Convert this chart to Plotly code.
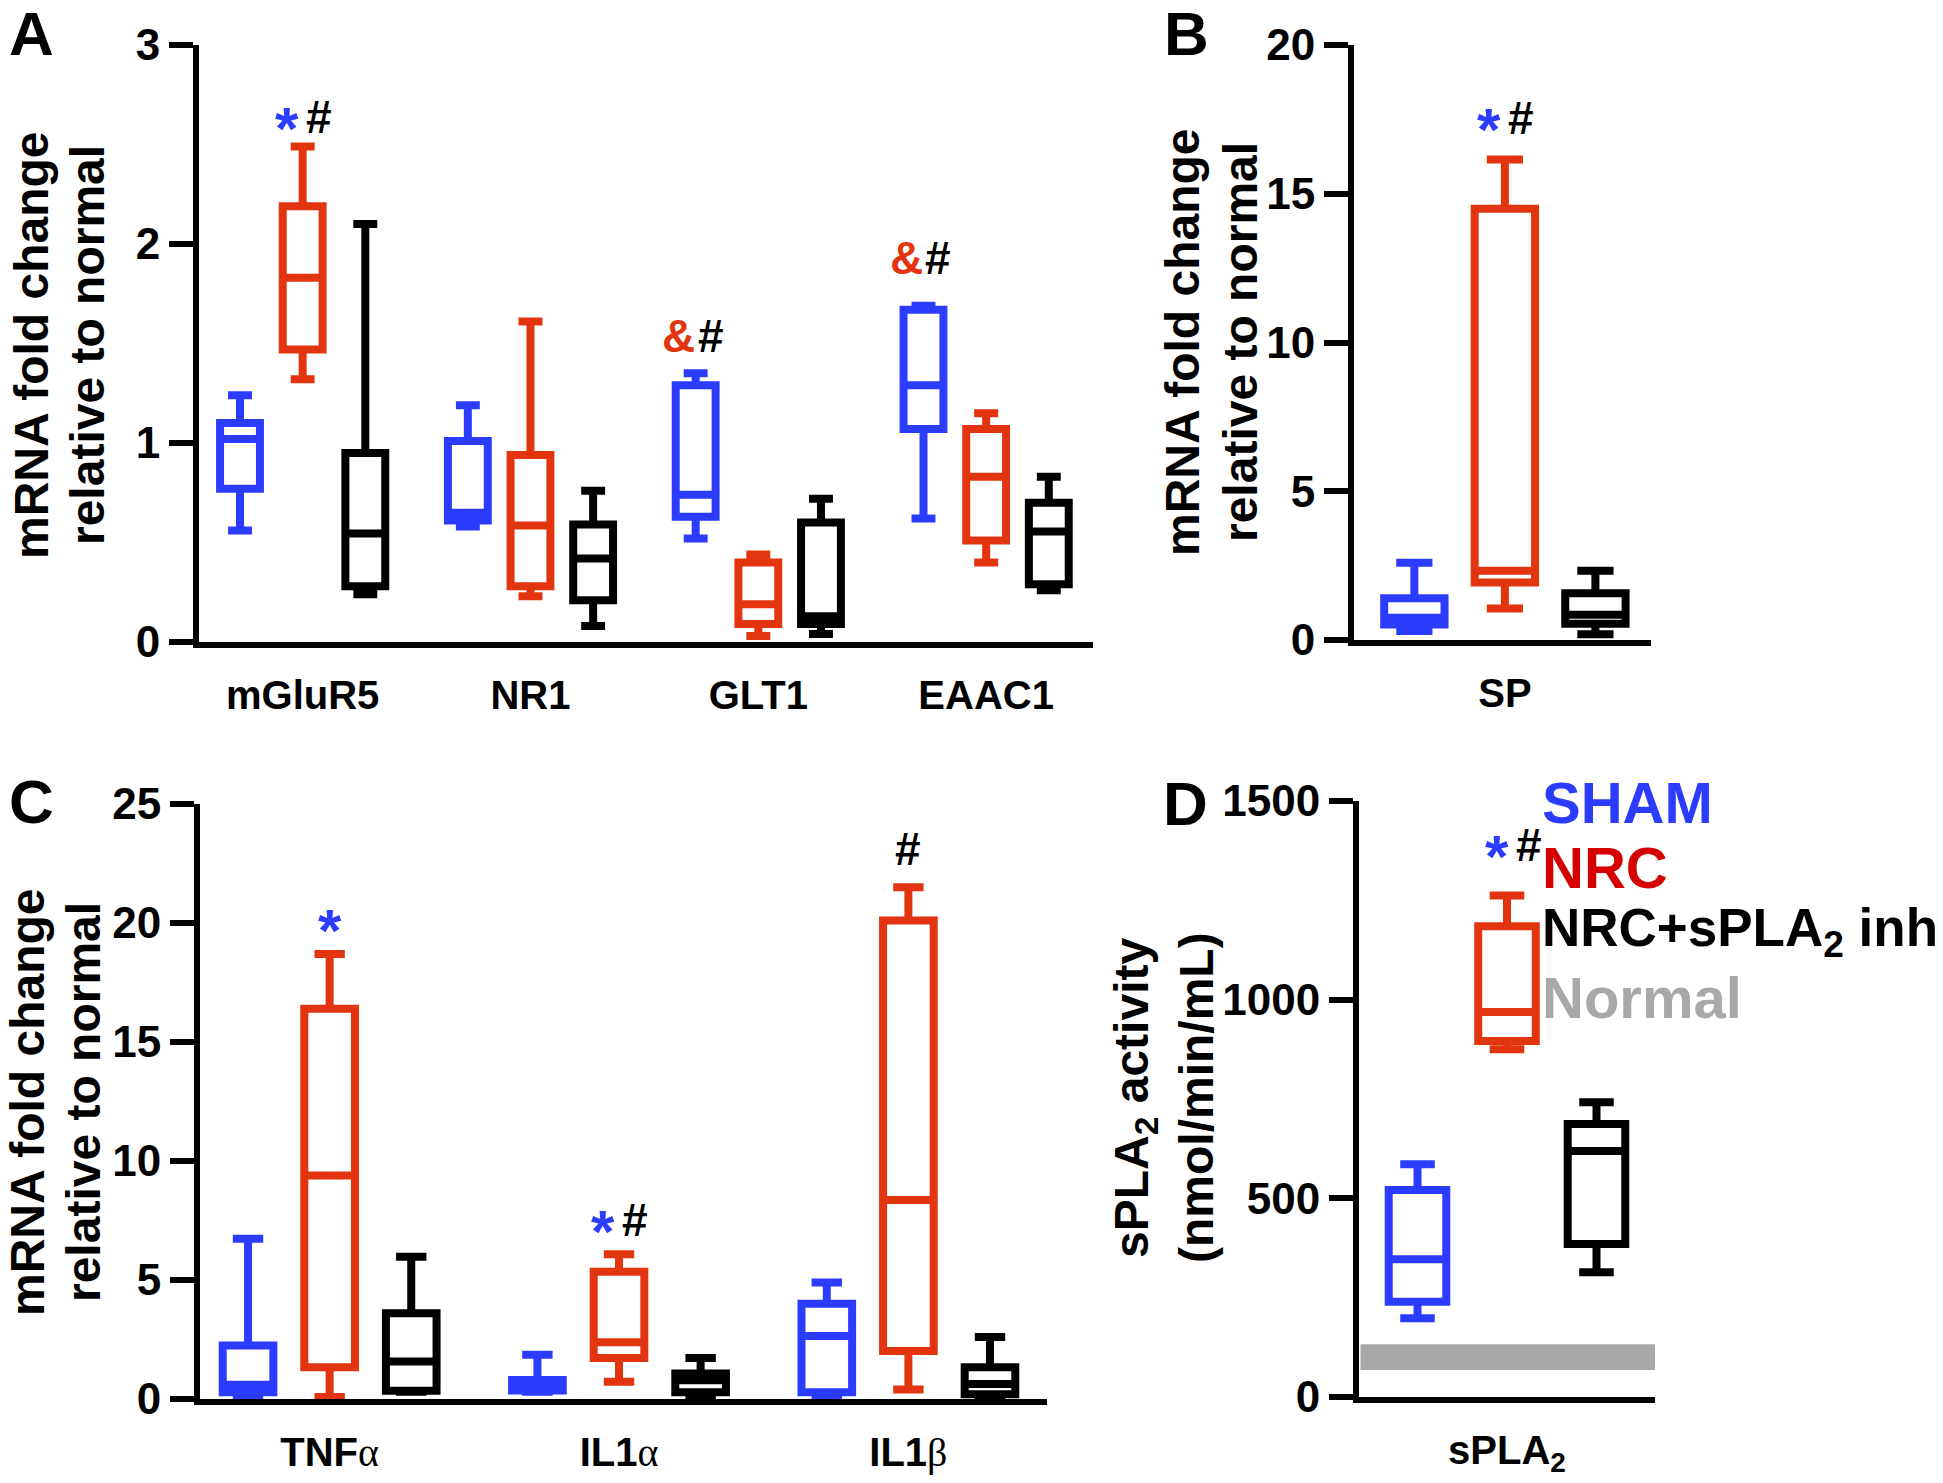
import plotly.graph_objects as go

W, H = 1943, 1483

BLUE = "#2B3CFF"
RED = "#E2340F"
BLACK = "#000000"
GRAY = "#A8A8A8"
LEG_RED = "#D50000"
FONT = "Liberation Sans, Arial, Helvetica, sans-serif"

# ---------------- data ----------------
# Panel A: mRNA fold change (glutamate-related genes)
a_cats = ["mGluR5", "NR1", "GLT1", "EAAC1"]
a_sham_min = [0.56, 0.58, 0.52, 0.62]
a_sham_q1 = [0.77, 0.61, 0.63, 1.07]
a_sham_med = [1.02, 0.65, 0.74, 1.29]
a_sham_q3 = [1.10, 1.01, 1.29, 1.67]
a_sham_max = [1.24, 1.19, 1.35, 1.69]
a_nrc_min = [1.32, 0.23, 0.03, 0.40]
a_nrc_q1 = [1.47, 0.28, 0.09, 0.51]
a_nrc_med = [1.83, 0.585, 0.19, 0.83]
a_nrc_q3 = [2.19, 0.94, 0.40, 1.07]
a_nrc_max = [2.49, 1.61, 0.44, 1.15]
a_inh_min = [0.24, 0.08, 0.04, 0.26]
a_inh_q1 = [0.28, 0.21, 0.09, 0.29]
a_inh_med = [0.545, 0.42, 0.13, 0.555]
a_inh_q3 = [0.95, 0.59, 0.60, 0.70]
a_inh_max = [2.10, 0.76, 0.72, 0.83]

# Panel B: SP
b_cats = ["SP"]
b_sham_min, b_sham_q1, b_sham_med, b_sham_q3, b_sham_max = [0.30], [0.52], [0.75], [1.40], [2.60]
b_nrc_min, b_nrc_q1, b_nrc_med, b_nrc_q3, b_nrc_max = [1.06], [1.93], [2.33], [14.5], [16.15]
b_inh_min, b_inh_q1, b_inh_med, b_inh_q3, b_inh_max = [0.19], [0.55], [0.85], [1.57], [2.33]

# Panel C: cytokines
GREEK = "<span style='font-family:Liberation Serif;font-weight:normal'>%s</span>"
c_cats = ["TNF" + GREEK % "α", "IL1" + GREEK % "α", "IL1" + GREEK % "β"]
c_sham_min = [0.08, 0.30, 0.08]
c_sham_q1 = [0.28, 0.36, 0.28]
c_sham_med = [0.60, 0.55, 2.65]
c_sham_q3 = [2.25, 0.80, 4.0]
c_sham_max = [6.73, 1.86, 4.89]
c_nrc_min = [0.08, 0.73, 0.40]
c_nrc_q1 = [1.33, 1.72, 2.02]
c_nrc_med = [9.39, 2.38, 8.36]
c_nrc_q3 = [16.4, 5.35, 20.1]
c_nrc_max = [18.7, 6.08, 21.5]
c_inh_min = [0.30, 0.10, 0.08]
c_inh_q1 = [0.35, 0.28, 0.20]
c_inh_med = [1.58, 0.79, 0.63]
c_inh_q3 = [3.6, 1.07, 1.33]
c_inh_max = [5.98, 1.72, 2.61]

# Panel D: sPLA2 activity
d_cats = ["sPLA<sub>2</sub>"]
d_sham_min, d_sham_q1, d_sham_med, d_sham_q3, d_sham_max = [198], [240], [347], [521], [586]
d_nrc_min, d_nrc_q1, d_nrc_med, d_nrc_q3, d_nrc_max = [875], [896], [969], [1185], [1262]
d_inh_min, d_inh_q1, d_inh_med, d_inh_q3, d_inh_max = [314], [385], [619], [687], [742]
d_normal_low, d_normal_high = 68, 133

group_names = ["SHAM", "NRC", "NRC+sPLA<sub>2</sub> inh", "Normal"]

# significance marks: (panel, x, y, symbols, colors)
sig_marks = [
    ("A", 0.0, 2.64, ["*", "#"], [BLUE, BLACK]),
    ("A", 1.72, 1.54, ["&amp;", "#"], [RED, BLACK]),
    ("A", 2.72, 1.93, ["&amp;", "#"], [RED, BLACK]),
    ("B", 0.0, 17.55, ["*", "#"], [BLUE, BLACK]),
    ("C", 0.0, 20.2, ["*"], [BLUE]),
    ("C", 1.0, 7.54, ["*", "#"], [BLUE, BLACK]),
    ("C", 2.0, 23.1, ["#"], [BLACK]),
    ("D", 0.02, 1390, ["*", "#"], [BLUE, BLACK]),
]

# ---------------- layout geometry (pixels) ----------------
panels = {
    "A": dict(ax="", x0=199, x1=1093, y0=45, y1=642, xr=[-0.455, 3.469], yr=[0, 3], dt=1,
              off=0.275, bw=0.175),
    "B": dict(ax="2", x0=1354, x1=1651, y0=45, y1=640, xr=[-0.475, 0.46], yr=[0, 20], dt=5,
              off=0.285, bw=0.19),
    "C": dict(ax="3", x0=200, x1=1047, y0=804, y1=1399, xr=[-0.448, 2.479], yr=[0, 25], dt=5,
              off=0.282, bw=0.175),
    "D": dict(ax="4", x0=1359, x1=1655, y0=801, y1=1397, xr=[-0.463, 0.463], yr=[0, 1500], dt=500,
              off=0.28, bw=0.18),
}

series = {
    "A": (a_cats, [(a_sham_min, a_sham_q1, a_sham_med, a_sham_q3, a_sham_max, BLUE),
                   (a_nrc_min, a_nrc_q1, a_nrc_med, a_nrc_q3, a_nrc_max, RED),
                   (a_inh_min, a_inh_q1, a_inh_med, a_inh_q3, a_inh_max, BLACK)]),
    "B": (b_cats, [(b_sham_min, b_sham_q1, b_sham_med, b_sham_q3, b_sham_max, BLUE),
                   (b_nrc_min, b_nrc_q1, b_nrc_med, b_nrc_q3, b_nrc_max, RED),
                   (b_inh_min, b_inh_q1, b_inh_med, b_inh_q3, b_inh_max, BLACK)]),
    "C": (c_cats, [(c_sham_min, c_sham_q1, c_sham_med, c_sham_q3, c_sham_max, BLUE),
                   (c_nrc_min, c_nrc_q1, c_nrc_med, c_nrc_q3, c_nrc_max, RED),
                   (c_inh_min, c_inh_q1, c_inh_med, c_inh_q3, c_inh_max, BLACK)]),
    "D": (d_cats, [(d_sham_min, d_sham_q1, d_sham_med, d_sham_q3, d_sham_max, BLUE),
                   (d_nrc_min, d_nrc_q1, d_nrc_med, d_nrc_q3, d_nrc_max, RED),
                   (d_inh_min, d_inh_q1, d_inh_med, d_inh_q3, d_inh_max, BLACK)]),
}

fig = go.Figure()

# Normal band in panel D
fig.add_shape(type="rect", xref="x4 domain", yref="y4", x0=0.005, x1=1.0,
              y0=d_normal_low, y1=d_normal_high, fillcolor=GRAY, line_width=0, layer="below")

for key, (cats, groups) in series.items():
    p = panels[key]
    for gi, (mn, q1, md, q3, mx, col) in enumerate(groups):
        xs = [i + (gi - 1) * p["off"] for i in range(len(cats))]
        fig.add_trace(go.Box(
            x=xs, q1=q1, median=md, q3=q3, lowerfence=mn, upperfence=mx,
            xaxis="x" + p["ax"], yaxis="y" + p["ax"],
            width=p["bw"], whiskerwidth=0.6, boxpoints=False,
            fillcolor="white", line=dict(color=col, width=8),
            showlegend=False, hoverinfo="skip"))

layout = dict(width=W, height=H, autosize=False,
              margin=dict(l=0, r=0, t=0, b=0, pad=0, autoexpand=False),
              paper_bgcolor="white", plot_bgcolor="rgba(0,0,0,0)",
              font=dict(family=FONT, color="black"), showlegend=False)

for key, p in panels.items():
    cats = series[key][0]
    xa = dict(domain=[p["x0"] / W, p["x1"] / W], range=p["xr"], anchor="y" + p["ax"],
              automargin=False,
              showline=True, linewidth=6, linecolor="black", showgrid=False, zeroline=False,
              ticks="", tickvals=list(range(len(cats))), ticktext=cats,
              tickfont=dict(family=FONT, size=40, weight="bold", color="black"),
              ticklabelstandoff=13)
    ya = dict(domain=[1 - p["y1"] / H, 1 - p["y0"] / H], range=p["yr"], anchor="x" + p["ax"],
              automargin=False,
              showline=True, linewidth=6, linecolor="black", showgrid=False, zeroline=False,
              ticks="outside", ticklen=24, tickwidth=6, tickcolor="black", dtick=p["dt"], tick0=0,
              tickfont=dict(family=FONT, size=44, weight="bold", color="black"))
    layout["xaxis" + p["ax"]] = xa
    layout["yaxis" + p["ax"]] = ya

fig.update_layout(**layout)

ann = []
# panel letters
for letter, (x, y) in {"A": (31, 34), "B": (1186, 34), "C": (31, 801), "D": (1185, 803)}.items():
    ann.append(dict(text=letter, x=x / W, y=1 - y / H, xref="paper", yref="paper",
                    xanchor="center", yanchor="middle", showarrow=False,
                    font=dict(family=FONT, size=62, weight="bold", color="black")))

# y-axis titles (two lines each)
ytitles = [
    ("mRNA fold change", 32, 345), ("relative to normal", 88, 345),
    ("mRNA fold change", 1182, 342), ("relative to normal", 1240, 342),
    ("mRNA fold change", 27, 1102), ("relative to normal", 83, 1102),
    ("sPLA<sub>2</sub> activity", 1135, 1098), ("(nmol/min/mL)", 1196, 1098),
]
for txt, x, y in ytitles:
    ann.append(dict(text=txt, x=x / W, y=1 - y / H, xref="paper", yref="paper",
                    xanchor="center", yanchor="middle", textangle=-90, showarrow=False,
                    font=dict(family=FONT, size=48, weight="bold", color="black")))

# significance marks
for key, x, y, syms, cols in sig_marks:
    p = panels[key]
    n = len(syms)
    for k, (sym, col) in enumerate(zip(syms, cols)):
        is_star = sym == "*"
        dx = 0 if n == 1 else (-16 if k == 0 else 16)
        ann.append(dict(text=sym, x=x, y=y, xref="x" + p["ax"], yref="y" + p["ax"],
                        xanchor="center", yanchor="middle", showarrow=False,
                        xshift=dx, yshift=-12 if is_star else 0,
                        font=dict(family=FONT, size=60 if is_star else 46, weight="bold",
                                  color=col)))

# legend (panel D)
leg_cols = [BLUE, LEG_RED, BLACK, GRAY]
leg_size = [58, 58, 53, 58]
leg_y = [802, 867, 932, 997]
for name, col, sz, y in zip(group_names, leg_cols, leg_size, leg_y):
    ann.append(dict(text=name, x=1540 / W, y=1 - y / H, xref="paper", yref="paper",
                    xanchor="left", yanchor="middle", showarrow=False,
                    font=dict(family=FONT, size=sz, weight="bold", color=col)))

fig.update_layout(annotations=ann)
fig.write_html("out.html", config={"displayModeBar": False},
               post_script="document.body.style.margin='0px';")
